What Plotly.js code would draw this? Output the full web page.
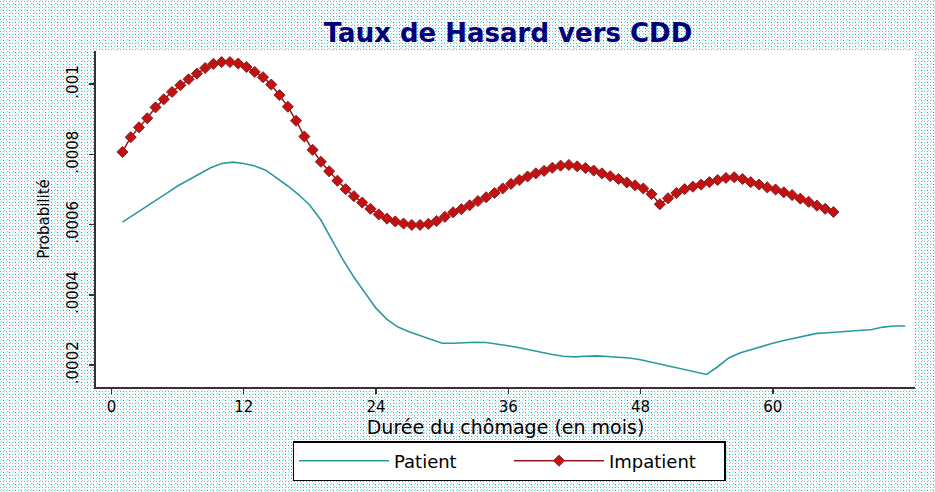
<!DOCTYPE html>
<html>
<head>
<meta charset="utf-8">
<script src="https://cdn.plot.ly/plotly-3.0.1.min.js"></script>
<style>
html,body{margin:0;padding:0;}
body{
  width:935px;height:492px;overflow:hidden;
  background-color:#fbfbfb;
  background-image:url("data:image/svg+xml;utf8,<svg xmlns='http://www.w3.org/2000/svg' width='6' height='6'><rect width='6' height='6' fill='%23fcfcfc'/><rect x='0' y='1' width='1' height='1' fill='%23a0a0a0'/><rect x='3' y='1' width='1' height='1' fill='%23a0a0a0'/><rect x='0' y='4' width='1' height='1' fill='%2380f0ff'/><rect x='3' y='4' width='1' height='1' fill='%236060ff'/><rect x='1' y='3' width='1' height='1' fill='%23c0c0c0'/><rect x='4' y='0' width='1' height='1' fill='%23c0c0c0'/></svg>");
}
#chart{width:935px;height:492px;}
</style>
</head>
<body>
<div id="chart"></div>
<script>
// Patient series (monthly)
const patientX = [1,2,3,4,5,6,7,8,9,10,11,12,13,14,15,16,17,18,19,20,21,22,23,24,25,26,27,28,29,30,31,32,33,34,35,36,37,38,39,40,41,42,43,44,45,46,47,48,49,50,51,52,53,54,55,56,57,58,59,60,61,62,63,64,65,66,67,68,69,70,71,72];
const patientY = [6.07e-4,6.27e-4,6.47e-4,6.68e-4,6.89e-4,7.10e-4,7.28e-4,7.46e-4,7.62e-4,7.74e-4,7.78e-4,7.74e-4,7.67e-4,7.55e-4,7.33e-4,7.10e-4,6.85e-4,6.55e-4,6.13e-4,5.55e-4,
  5.00e-4,4.50e-4,4.05e-4,3.62e-4,3.30e-4,3.08e-4,2.95e-4,2.84e-4,2.72e-4,2.62e-4,2.62e-4,2.64e-4,2.65e-4,2.64e-4,2.60e-4,2.55e-4,2.49e-4,2.42e-4,2.36e-4,2.30e-4,
  2.25e-4,2.23e-4,2.25e-4,2.26e-4,2.24e-4,2.22e-4,2.20e-4,2.15e-4,2.08e-4,2.01e-4,1.94e-4,1.86e-4,1.78e-4,1.73e-4,1.95e-4,2.20e-4,2.34e-4,2.44e-4,2.54e-4,2.62e-4,
  2.70e-4,2.77e-4,2.84e-4,2.90e-4,2.92e-4,2.94e-4,2.95e-4,2.97e-4,3.01e-4,3.08e-4,3.11e-4,3.11e-4];

// Impatient series
const impatientX = [1,1.75,2.5,3.25,4,4.75,5.5,6.25,7,7.75,8.5,9.25,10,10.75,11.5,12.25,13,13.75,14.5,15.25,16,16.75,17.5,18.25,19,19.75,20.5,21.25,22,22.75,23.5,24.25,25,25.75,26.5,27.25,28,28.75,29.5,30.25,31,31.75,32.5,33.25,34,34.75,35.5,36.25,37,37.75,38.5,39.25,40,40.75,41.5,42.25,43,43.75,44.5,45.25,46,46.75,47.5,48.25,49,49.75,50.5,51.25,52,52.75,53.5,54.25,55,55.75,56.5,57.25,58,58.75,59.5,60.25,61,61.75,62.5,63.25,64,64.75,65.5];
const impatientY = [8.07e-4,8.49e-4,8.77e-4,9.03e-4,9.34e-4,9.57e-4,9.78e-4,9.97e-4,10.14e-4,10.30e-4,10.46e-4,10.58e-4,10.63e-4,10.63e-4,10.59e-4,10.49e-4,10.35e-4,10.20e-4,9.99e-4,9.69e-4,
  9.36e-4,8.96e-4,8.51e-4,8.13e-4,7.79e-4,7.52e-4,7.25e-4,7.01e-4,6.81e-4,6.63e-4,6.45e-4,6.29e-4,6.17e-4,6.09e-4,6.03e-4,5.99e-4,5.99e-4,6.02e-4,6.10e-4,6.22e-4,
  6.35e-4,6.44e-4,6.55e-4,6.67e-4,6.78e-4,6.90e-4,7.03e-4,7.16e-4,7.27e-4,7.37e-4,7.46e-4,7.53e-4,7.62e-4,7.68e-4,7.70e-4,7.66e-4,7.61e-4,7.54e-4,7.46e-4,7.38e-4,
  7.30e-4,7.20e-4,7.12e-4,7.03e-4,6.87e-4,6.58e-4,6.75e-4,6.90e-4,7.01e-4,7.08e-4,7.14e-4,7.21e-4,7.27e-4,7.33e-4,7.35e-4,7.30e-4,7.21e-4,7.14e-4,7.06e-4,7.00e-4,
  6.92e-4,6.84e-4,6.74e-4,6.65e-4,6.54e-4,6.45e-4,6.36e-4];

const xTicks = [0,12,24,36,48,60];
const yTickVals = [0.0002,0.0004,0.0006,0.0008,0.001];
const yTickText = [".0002",".0004",".0006",".0008",".001"];

const traces = [
  {x: patientX, y: patientY, type:'scatter', mode:'lines', name:'Patient',
   line:{color:'#2a9a9e', width:1.6}},
  {x: impatientX, y: impatientY, type:'scatter', mode:'lines+markers', name:'Impatient',
   line:{color:'#8e1a1a', width:1.5},
   marker:{symbol:'diamond', size:8.5, color:'#c41010', line:{color:'#8a2020', width:1}}}
];

const layout = {
  width:935, height:492,
  paper_bgcolor:'rgba(0,0,0,0)', plot_bgcolor:'#ffffff',
  margin:{l:96, r:20, t:51, b:105},
  font:{family:'"Liberation Sans", Arial, sans-serif', color:'#000'},
  title:{text:'<b>Taux de Hasard vers CDD</b>', font:{family:'"DejaVu Sans", sans-serif', size:26, color:'#00007a'},
         x:508/935, xref:'container', xanchor:'center', y:1-33/492, yref:'container', yanchor:'middle'},
  showlegend:true,
  legend:{orientation:'h', x:509/935, xanchor:'center', xref:'container', y:1-441/492, yref:'container', yanchor:'top',
          bgcolor:'#ffffff', bordercolor:'#000', borderwidth:1.5, itemwidth:90,
          entrywidth:110, entrywidthmode:'pixels', tracegroupgap:0,
          font:{family:'"DejaVu Sans", sans-serif', size:18}},
  xaxis:{range:[-1.4,72.9], tickvals:xTicks, ticktext:xTicks.map(String), ticks:'outside', ticklen:5, tickwidth:1.5, tickcolor:'#333',
         showline:true, linecolor:'#333', linewidth:2, showgrid:false, zeroline:false, mirror:false,
         tickfont:{family:'"DejaVu Sans", sans-serif', size:15},
         title:{text:'Durée du chômage (en mois)', font:{family:'"DejaVu Sans", sans-serif', size:19}, standoff:0}},
  yaxis:{range:[0.0001373,0.0010946], tickvals:yTickVals, ticktext:yTickText, tickangle:-90, ticks:'outside', ticklen:5, tickwidth:1.5, tickcolor:'#333',
         ticklabelstandoff:5,
         showline:true, linecolor:'#333', linewidth:2, showgrid:false, zeroline:false,
         tickfont:{family:'"DejaVu Sans", sans-serif', size:15},
         title:{text:'Probabilité', font:{family:'"DejaVu Sans", sans-serif', size:15}, standoff:11}}
};

Plotly.newPlot('chart', traces, layout, {displayModeBar:false, staticPlot:true});
</script>
</body>
</html>
